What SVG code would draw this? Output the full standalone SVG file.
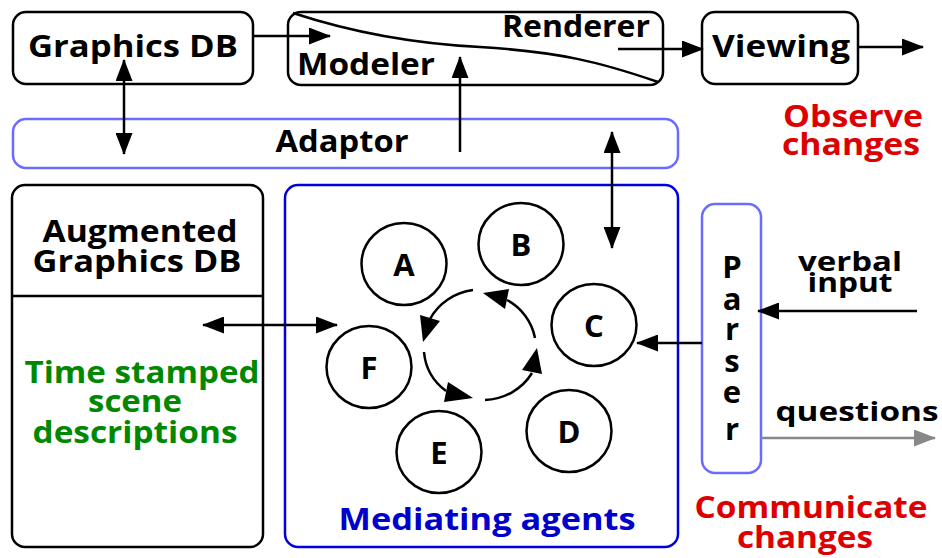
<svg xmlns="http://www.w3.org/2000/svg" width="942" height="558" viewBox="0 0 942 558">
<style>
.t{font-family:"Open Sans",Lato,"Liberation Sans",sans-serif;font-weight:bold;font-size:31px;fill:#000;text-anchor:middle}
.s{font-size:27px}
.box{fill:none;stroke:#000;stroke-width:2.5}
.lb{fill:none;stroke:#6b6bff;stroke-width:2.5}
.db{fill:none;stroke:#0000dd;stroke-width:2.5}
.ln{fill:none;stroke:#000;stroke-width:2.5}
.hd{fill:#000;stroke:none}
.red{fill:#dd0000}
.grn{fill:#008800}
.blu{fill:#0000cc}
</style>
<defs>
<marker id="ah" viewBox="0 0 22 17" refX="21" refY="8.5" markerWidth="22" markerHeight="17" markerUnits="userSpaceOnUse" orient="auto-start-reverse">
<path d="M0,0 L22,8.5 L0,17 Z" fill="#000"/>
</marker>
<marker id="ahg" viewBox="0 0 22 17" refX="21" refY="8.5" markerWidth="22" markerHeight="17" markerUnits="userSpaceOnUse" orient="auto">
<path d="M0,0 L22,8.5 L0,17 Z" fill="#888"/>
</marker>
</defs>

<g id="graphics-db">
<rect class="box" x="13" y="12" width="240" height="72" rx="13"/>
<text class="t" x="133" y="57" textLength="210" lengthAdjust="spacingAndGlyphs">Graphics DB</text>
</g>

<g id="modeler-renderer">
<rect class="box" x="288" y="12" width="375" height="73" rx="13"/>
<path class="ln" d="M293,13 C360,35 420,44 480,47 C560,52 600,62 658,82"/>
<text class="t" x="576" y="37" textLength="148" lengthAdjust="spacingAndGlyphs">Renderer</text>
<text class="t" x="366" y="75" textLength="138" lengthAdjust="spacingAndGlyphs">Modeler</text>
</g>

<g id="viewing">
<rect class="box" x="702" y="12" width="156" height="72" rx="13"/>
<text class="t" x="781" y="57" textLength="138" lengthAdjust="spacingAndGlyphs">Viewing</text>
</g>

<g id="observe-changes">
<text class="t red" x="853" y="127" textLength="140" lengthAdjust="spacingAndGlyphs">Observe</text>
<text class="t red" x="851" y="155" textLength="138" lengthAdjust="spacingAndGlyphs">changes</text>
</g>

<g id="adaptor">
<rect class="lb" x="13" y="119" width="665" height="49" rx="13"/>
<text class="t" x="342" y="152" textLength="133" lengthAdjust="spacingAndGlyphs">Adaptor</text>
</g>

<g id="augmented-db">
<rect class="box" x="12" y="185" width="251" height="362" rx="13"/>
<line class="ln" x1="12" y1="296" x2="263" y2="296"/>
<text class="t" x="140" y="242" textLength="195" lengthAdjust="spacingAndGlyphs">Augmented</text>
<text class="t" x="137" y="272" textLength="209" lengthAdjust="spacingAndGlyphs">Graphics DB</text>
<text class="t grn" x="142" y="383" textLength="235" lengthAdjust="spacingAndGlyphs">Time stamped</text>
<text class="t grn" x="135" y="412" textLength="94" lengthAdjust="spacingAndGlyphs">scene</text>
<text class="t grn" x="135" y="443" textLength="205" lengthAdjust="spacingAndGlyphs">descriptions</text>
</g>

<g id="mediating-agents">
<rect class="db" x="285" y="185" width="393" height="362" rx="13"/>
<text class="t blu" x="487" y="530" textLength="297" lengthAdjust="spacingAndGlyphs">Mediating agents</text>
</g>

<g id="agent-a"><ellipse class="box" cx="404" cy="264" rx="42.5" ry="41"/><text class="t" x="404" y="276">A</text></g>
<g id="agent-b"><ellipse class="box" cx="521" cy="244" rx="42.5" ry="41"/><text class="t" x="521" y="256">B</text></g>
<g id="agent-c"><ellipse class="box" cx="594" cy="325" rx="42.5" ry="41"/><text class="t" x="594" y="337">C</text></g>
<g id="agent-d"><ellipse class="box" cx="569" cy="431" rx="42.5" ry="41"/><text class="t" x="569" y="443">D</text></g>
<g id="agent-e"><ellipse class="box" cx="439" cy="452" rx="42.5" ry="41"/><text class="t" x="439" y="464">E</text></g>
<g id="agent-f"><ellipse class="box" cx="369" cy="367" rx="42.5" ry="41"/><text class="t" x="369" y="379">F</text></g>

<g id="parser">
<rect class="lb" x="702" y="204" width="59" height="269" rx="13"/>
<text class="t" x="732" y="278">P</text>
<text class="t" x="732" y="310">a</text>
<text class="t" x="732" y="340">r</text>
<text class="t" x="732" y="372">s</text>
<text class="t" x="732" y="403">e</text>
<text class="t" x="732" y="440">r</text>
</g>

<g id="labels">
<text class="t s" x="850" y="271" textLength="104" lengthAdjust="spacingAndGlyphs">verbal</text>
<text class="t s" x="850" y="292" textLength="85" lengthAdjust="spacingAndGlyphs">input</text>
<text class="t s" x="857" y="421" textLength="163" lengthAdjust="spacingAndGlyphs">questions</text>
<text class="t red" x="811" y="518" textLength="233" lengthAdjust="spacingAndGlyphs">Communicate</text>
<text class="t red" x="805" y="548" textLength="136" lengthAdjust="spacingAndGlyphs">changes</text>
</g>

<g id="connectors">
<line class="ln" x1="124" y1="60" x2="124" y2="154" marker-start="url(#ah)" marker-end="url(#ah)"/>
<line class="ln" x1="253" y1="36" x2="330" y2="36" marker-end="url(#ah)"/>
<line class="ln" x1="460" y1="152" x2="460" y2="57" marker-end="url(#ah)"/>
<line class="ln" x1="618" y1="49" x2="703" y2="49" marker-end="url(#ah)"/>
<line class="ln" x1="858" y1="47" x2="923" y2="47" marker-end="url(#ah)"/>
<line class="ln" x1="612" y1="132" x2="612" y2="248" marker-start="url(#ah)" marker-end="url(#ah)"/>
<line class="ln" x1="203" y1="325" x2="337" y2="325" marker-start="url(#ah)" marker-end="url(#ah)"/>
<line class="ln" x1="917" y1="311" x2="758" y2="311" marker-end="url(#ah)"/>
<line class="ln" x1="702" y1="343" x2="637" y2="343" marker-end="url(#ah)"/>
<line x1="761" y1="438" x2="935" y2="438" stroke="#888" stroke-width="2.5" marker-end="url(#ahg)"/>
<path class="ln" d="M473,290 A57,55 0 0 0 430,319"/>
<polygon class="hd" points="440,321 420,315 423,342"/>
<path class="ln" d="M424,352 A57,55 0 0 0 446,391"/>
<polygon class="hd" points="444,402 448,382 473,398"/>
<path class="ln" d="M485,400 A57,55 0 0 0 532,373"/>
<polygon class="hd" points="542,374 522,370 537,348"/>
<path class="ln" d="M535,338 A57,55 0 0 0 507,300"/>
<polygon class="hd" points="509,289 505,309 483,293"/>
</g>
</svg>
